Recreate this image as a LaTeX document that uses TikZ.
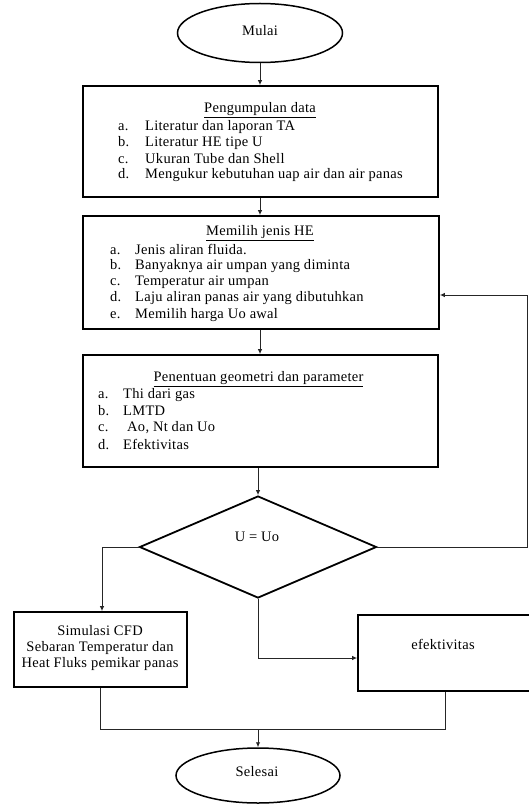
\documentclass[tikz,border=0pt]{standalone}
\usepackage{fontspec}
\setmainfont{Liberation Serif}[LetterSpace=2]
\usetikzlibrary{shapes.geometric,arrows.meta}
\begin{document}
\begin{tikzpicture}[x=1pt,y=-1pt,
  txt/.style={font=\fontsize{14.5}{16}\selectfont, inner sep=0pt},
  item/.style={txt, anchor=west},
  boxthick/.style={draw, line width=1.8pt, inner sep=0pt, rectangle},
  term/.style={draw, ellipse, line width=1.5pt, inner sep=0pt},
  conn/.style={draw=black!85, line width=0.9pt},
  arr/.style={conn, -{Latex[length=5pt,width=4.5pt]}},
]
\useasboundingbox (0,0) rectangle (528,805);
\fill[white] (0,0) rectangle (528,805);

% terminals
\node[term, minimum width=165pt, minimum height=59pt] (mulai) at (260,33) {};
\node[txt] (tmulai) at (260,31) {Mulai};

% box 1
\node[boxthick, minimum width=355pt, minimum height=111pt] (b1) at (260.5,141.5) {};
\node[txt] (h1) at (260,110) {\underline{Pengumpulan data}};
\node[item] (b1a) at (118,127) {\makebox[27pt][l]{a.}Literatur dan laporan TA};
\node[item] (b1b) at (118,143) {\makebox[27pt][l]{b.}Literatur HE tipe U};
\node[item] (b1c) at (118,159) {\makebox[27pt][l]{c.}Ukuran Tube dan Shell};
\node[item] (b1d) at (118,175) {\makebox[27pt][l]{d.}Mengukur kebutuhan uap air dan air panas};

% box 2
\node[boxthick, minimum width=356pt, minimum height=113pt] (b2) at (261,272.5) {};
\node[txt] (h2) at (260,233) {\underline{Memilih jenis HE}};
\node[item] (b2a) at (110,249) {\makebox[25pt][l]{a.}Jenis aliran fluida.};
\node[item] (b2b) at (110,266) {\makebox[25pt][l]{b.}Banyaknya air umpan yang diminta};
\node[item] (b2c) at (110,282) {\makebox[25pt][l]{c.}Temperatur air umpan};
\node[item] (b2d) at (110,298) {\makebox[25pt][l]{d.}Laju aliran panas air yang dibutuhkan};
\node[item] (b2e) at (110,315) {\makebox[25pt][l]{e.}Memilih harga Uo awal};

% box 3
\node[boxthick, minimum width=355pt, minimum height=112pt] (b3) at (260.5,411) {};
\node[txt] (h3) at (258.5,379) {\underline{Penentuan geometri dan parameter}};
\node[item] (b3a) at (98,395) {\makebox[25pt][l]{a.}Thi dari gas};
\node[item] (b3b) at (98,411) {\makebox[25pt][l]{b.}LMTD};
\node[item] (b3c) at (98,428) {\makebox[29pt][l]{c.}Ao, Nt dan Uo};
\node[item] (b3d) at (98,444) {\makebox[25pt][l]{d.}Efektivitas};

% decision
\node[draw, diamond, line width=1.8pt, inner sep=0pt, minimum width=237pt, minimum height=102pt] (dia) at (258,547) {};
\node[txt] (tdia) at (257,537) {U = Uo};

% bottom boxes
\node[boxthick, minimum width=173pt, minimum height=75pt] (lb) at (100.5,649.5) {};
\node[txt, align=center] (tlb) at (100,648) {Simulasi CFD\\Sebaran Temperatur dan\\Heat Fluks pemikar panas};
\node[boxthick, minimum width=174pt, minimum height=76pt] (rb) at (445,653) {};
\node[txt] (trb) at (443,644) {efektivitas};

\node[term, minimum width=164pt, minimum height=55pt] (selesai) at (258,775.5) {};
\node[txt] (tsel) at (257,772) {Selesai};

% connectors
\draw[arr] (mulai.south) -- (b1.north -| mulai.south);
\draw[arr] (b1.south -| mulai.south) -- (b2.north -| mulai.south);
\draw[arr] (b2.south -| mulai.south) -- (b3.north -| mulai.south);
\draw[arr] (b3.south -| dia.north) -- (dia.north);
\draw[arr] (dia.west) -| ([xshift=1.5pt]lb.north);
\draw[arr] (dia.south) |- ([yshift=-5pt]rb.west);
\coordinate (rc) at (527,295);
\draw[arr] (dia.east) -| (rc) -- (rc -| b2.east);
\coordinate (m) at (258,729);
\draw[conn] (lb.south) -- (lb.south |- m) -- (rb.south |- m) -- (rb.south);
\draw[arr] (m) -- (selesai.north);
\end{tikzpicture}
\end{document}
